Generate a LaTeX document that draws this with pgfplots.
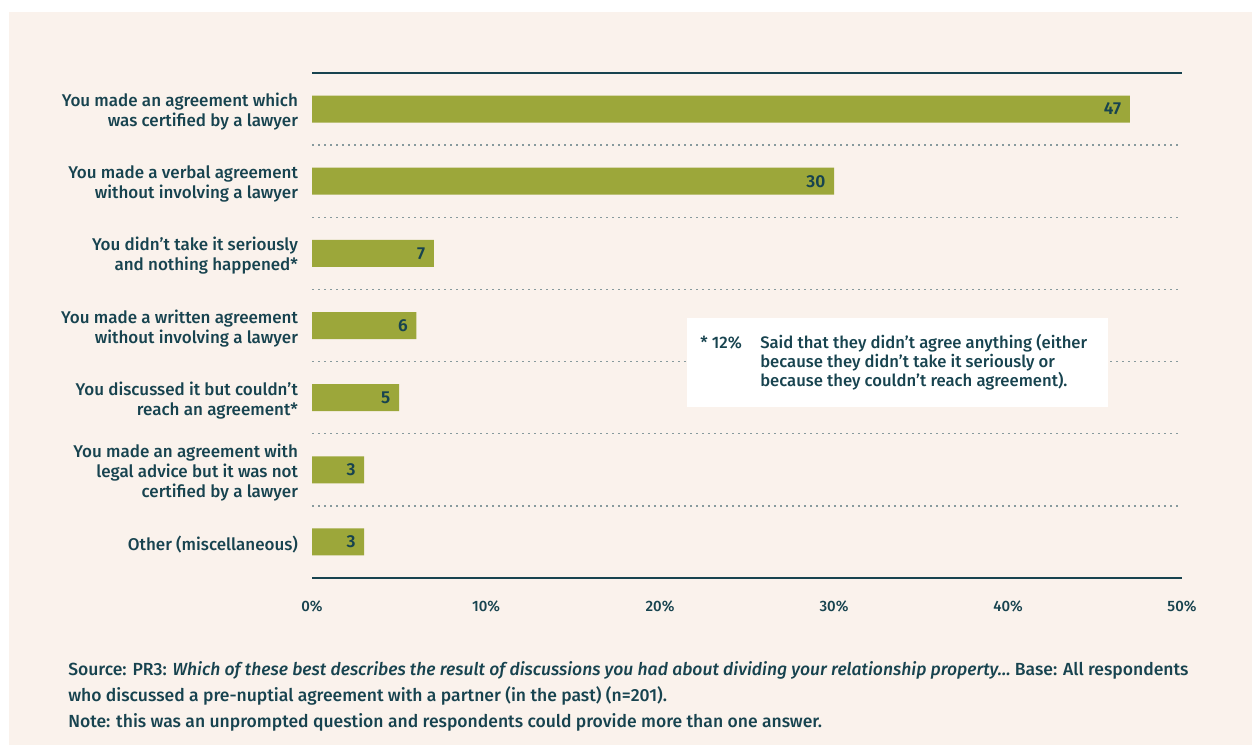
\documentclass[border=0pt]{standalone}
\usepackage{pgfplots}
\pgfplotsset{compat=1.18}
\usepackage{fontspec}
\setmainfont{Fira Sans}[UprightFont=* Medium, ItalicFont=* Medium Italic, BoldFont=* SemiBold]
\definecolor{bg}{HTML}{FAF2EC}
\definecolor{barc}{HTML}{9CA73A}
\definecolor{dark}{HTML}{17434F}
\definecolor{dotc}{HTML}{879A9D}
\newcommand{\lab}{\fontsize{12.75}{15}\selectfont}
\newcommand{\sml}{\fontsize{11.25}{14}\selectfont}
\newcommand{\ann}{\fontsize{12.5}{14}\selectfont}
\newcommand{\foot}{\fontsize{13.15}{15}\selectfont}
\newcommand{\val}{\fontsize{13}{15}\selectfont\bfseries}
\begin{document}
\begin{tikzpicture}
\fill[white] (0pt,0pt) rectangle (939pt,560.25pt);
\fill[bg] (6.75pt,1.5pt) rectangle (939pt,551.25pt);
\begin{axis}[
  at={(234pt,126.75pt)}, anchor=south west, scale only axis,
  width=652.5pt, height=378.75pt,
  xmin=0, xmax=50, ymin=-0.5, ymax=6.5, y dir=reverse,
  axis line style={draw=none},
  major tick length=0pt, minor tick length=0pt,
  xtick={0,10,20,30,40,50},
  xticklabels={0\%,10\%,20\%,30\%,40\%,50\%},
  xticklabel style={font=\sml, text=dark, yshift=-13.5pt},
  ytick={0,1,2,3,4,5,6},
  yticklabels={{You made an agreement which\\was certified by a lawyer},
    {You made a verbal agreement\\without involving a lawyer},
    {You didn’t take it seriously\\and nothing happened*},
    {You made a written agreement\\without involving a lawyer},
    {You discussed it but couldn’t\\reach an agreement*},
    {You made an agreement with\\legal advice but it was not\\certified by a lawyer},
    {Other (miscellaneous)}},
  yticklabel style={font=\lab, text=dark, align=right, xshift=-7pt, yshift=-2pt},
  minor ytick={0.5,1.5,2.5,3.5,4.5,5.5},
  yminorgrids=true,
  minor grid style={dotc, line width=1.1pt, dash pattern=on 1.4pt off 3.1pt},
  /pgf/number format/assume math mode=true,
  clip=false,
]
\addplot[xbar, fill=barc, draw=none, bar width=20.25pt,
  nodes near coords,
  every node near coord/.append style={anchor=east, font=\val, text=dark, xshift=-3pt}]
  coordinates {(47,0) (30,1) (7,2) (6,3) (5,4) (3,5) (3,6)};
\draw[dark, line width=1pt] (axis cs:0,-0.5) -- (axis cs:50,-0.5);
\draw[dark, line width=1pt] (axis cs:0,6.5) -- (axis cs:50,6.5);
\end{axis}
\fill[white] (515.25pt,255pt) rectangle (831pt,321.75pt);
\node[anchor=base west, text=dark, font=\ann, inner sep=0] at (525pt,298.5pt) {* 12\%};
\node[anchor=base west, text=dark, font=\ann, inner sep=0] at (570pt,298.5pt) {Said that they didn’t agree anything (either};
\node[anchor=base west, text=dark, font=\ann, inner sep=0] at (570pt,284.25pt) {because they didn’t take it seriously or};
\node[anchor=base west, text=dark, font=\ann, inner sep=0] at (570pt,270pt) {because they couldn’t reach agreement).};
\node[anchor=base west, text=dark, font=\foot, inner sep=0] at (51pt,54pt) {Source: PR3: \textit{Which of these best describes the result of discussions you had about dividing your relationship property…} Base: All respondents};
\node[anchor=base west, text=dark, font=\foot, inner sep=0] at (51pt,34.5pt) {who discussed a pre-nuptial agreement with a partner (in the past) (n=201).};
\node[anchor=base west, text=dark, font=\foot, inner sep=0] at (51pt,14.5pt) {Note: this was an unprompted question and respondents could provide more than one answer.};
\end{tikzpicture}
\end{document}
